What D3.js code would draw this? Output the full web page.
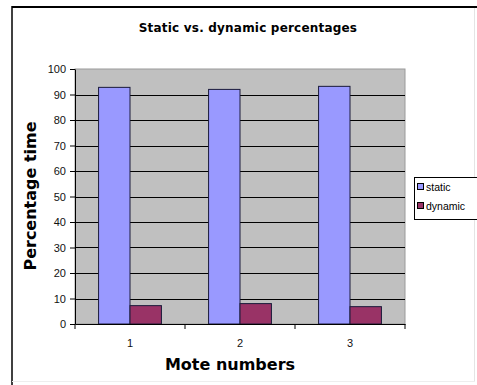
<!DOCTYPE html>
<html>
<head>
<meta charset="utf-8">
<script src="https://cdn.jsdelivr.net/npm/d3@7"></script>
<style>
  html, body { margin: 0; padding: 0; background: #fff; }
  svg { display: block; }
</style>
</head>
<body>
<svg id="chart" width="477" height="385" font-family="'Liberation Sans', Arial, sans-serif"></svg>
<script>
// Mote measurements: share of time spent static vs. dynamic
const categories = ["1", "2", "3"];
const seriesNames = ["static", "dynamic"];
const staticValues = [92.8, 92.0, 93.2];
const dynamicValues = [7.2, 8.0, 6.8];
const yTicks = [0, 10, 20, 30, 40, 50, 60, 70, 80, 90, 100];

const colors = { static: "#9999FF", dynamic: "#993366" };
const headingFont = "'DejaVu Sans', Verdana, sans-serif";
const labelFont = "'Liberation Sans', Arial, sans-serif";

const rows = categories.map((c, i) => ({
  category: c,
  values: [
    { key: "static", value: staticValues[i] },
    { key: "dynamic", value: dynamicValues[i] }
  ]
}));

const svg = d3.select("#chart");
const W = 477, H = 385;
const plot = { left: 75, right: 405, top: 69, bottom: 324 };

svg.append("rect").attr("width", W).attr("height", H).attr("fill", "#fff");

// chart frame
svg.append("line").attr("x1", 12).attr("x2", W).attr("y1", 7).attr("y2", 7)
  .attr("stroke", "#000").attr("stroke-width", 2);
svg.append("line").attr("x1", 12).attr("x2", 12).attr("y1", 6).attr("y2", H)
  .attr("stroke", "#000").attr("stroke-width", 1.5);
svg.append("line").attr("x1", 474.5).attr("x2", 474.5).attr("y1", 8).attr("y2", 381)
  .attr("stroke", "#e4e4e4").attr("stroke-width", 1);
svg.append("line").attr("x1", 12).attr("x2", 475).attr("y1", 381.5).attr("y2", 381.5)
  .attr("stroke", "#eeeeee").attr("stroke-width", 1);

const x0 = d3.scaleBand().domain(categories).range([plot.left, plot.right]).paddingInner(0).paddingOuter(0);
const x1 = d3.scaleBand().domain(seriesNames).range([0, x0.bandwidth()]).paddingInner(0).paddingOuter(0.75);
const y = d3.scaleLinear().domain([0, 100]).range([plot.bottom, plot.top]);

// plot area
svg.append("rect")
  .attr("x", plot.left).attr("y", plot.top)
  .attr("width", plot.right - plot.left).attr("height", plot.bottom - plot.top)
  .attr("fill", "#C0C0C0").attr("stroke", "#9a9a9a").attr("stroke-width", 1);

// horizontal gridlines
svg.append("g")
  .selectAll("line")
  .data(yTicks.filter(t => t > 0 && t < 100))
  .join("line")
  .attr("x1", plot.left).attr("x2", plot.right)
  .attr("y1", d => Math.round(y(d)) + 0.5).attr("y2", d => Math.round(y(d)) + 0.5)
  .attr("stroke", "#000").attr("stroke-width", 1);

// bars
const groups = svg.append("g").selectAll("g")
  .data(rows).join("g")
  .attr("transform", d => `translate(${x0(d.category)},0)`);

groups.selectAll("rect")
  .data(d => d.values)
  .join("rect")
  .attr("x", d => x1(d.key))
  .attr("y", d => y(d.value))
  .attr("width", x1.bandwidth())
  .attr("height", d => y(0) - y(d.value))
  .attr("fill", d => colors[d.key])
  .attr("stroke", "#1a1a3a")
  .attr("stroke-width", 1);

// y axis
const yAxis = svg.append("g")
  .attr("transform", `translate(${plot.left},0)`)
  .call(d3.axisLeft(y).tickValues(yTicks).tickSize(5).tickPadding(4).tickSizeOuter(0));
yAxis.select(".domain").attr("stroke", "#000");
yAxis.selectAll(".tick line").attr("stroke", "#000");
yAxis.selectAll(".tick text")
  .attr("font-family", labelFont)
  .attr("font-size", 11).attr("fill", "#111");

// x axis
const xAxis = svg.append("g")
  .attr("transform", `translate(0,${plot.bottom})`)
  .call(d3.axisBottom(x0).tickSize(0).tickPadding(15));
xAxis.select(".domain").attr("stroke", "#000");
xAxis.selectAll(".tick text")
  .attr("font-family", labelFont)
  .attr("font-size", 11).attr("fill", "#111");
// category boundary ticks
xAxis.append("g").selectAll("line")
  .data(categories)
  .join("line")
  .attr("x1", d => x0(d) + x0.bandwidth()).attr("x2", d => x0(d) + x0.bandwidth())
  .attr("y1", 0).attr("y2", 5)
  .attr("stroke", "#000");
xAxis.append("line").attr("x1", plot.left).attr("x2", plot.left).attr("y1", 0).attr("y2", 5).attr("stroke", "#000");

// title
svg.append("text")
  .attr("x", 248).attr("y", 32)
  .attr("text-anchor", "middle")
  .attr("font-family", headingFont)
  .attr("font-size", 12).attr("font-weight", "bold")
  .attr("letter-spacing", 0.2)
  .attr("fill", "#000")
  .text("Static vs. dynamic percentages");

// axis titles
svg.append("text")
  .attr("x", 230).attr("y", 370)
  .attr("text-anchor", "middle")
  .attr("font-family", headingFont)
  .attr("font-size", 16).attr("font-weight", "bold")
  .attr("fill", "#000")
  .text("Mote numbers");

svg.append("text")
  .attr("transform", "translate(36,196) rotate(-90)")
  .attr("text-anchor", "middle")
  .attr("font-family", headingFont)
  .attr("font-size", 16).attr("font-weight", "bold")
  .attr("fill", "#000")
  .text("Percentage time");

// legend
const legend = svg.append("g").attr("transform", "translate(414,177)");
legend.append("rect")
  .attr("x", 0.5).attr("y", 0.5).attr("width", 80).attr("height", 42)
  .attr("fill", "#fff").attr("stroke", "#000").attr("stroke-width", 1);
const items = legend.selectAll("g.item")
  .data(seriesNames).join("g")
  .attr("class", "item")
  .attr("transform", (d, i) => `translate(0,${10 + i * 19})`);
items.append("rect")
  .attr("x", 3.5).attr("y", -3.5).attr("width", 6).attr("height", 6)
  .attr("fill", d => colors[d]).attr("stroke", "#000").attr("stroke-width", 1);
items.append("text")
  .attr("x", 12).attr("y", 4)
  .attr("font-family", labelFont)
  .attr("font-size", 10.5).attr("fill", "#000")
  .text(d => d);
</script>
</body>
</html>
